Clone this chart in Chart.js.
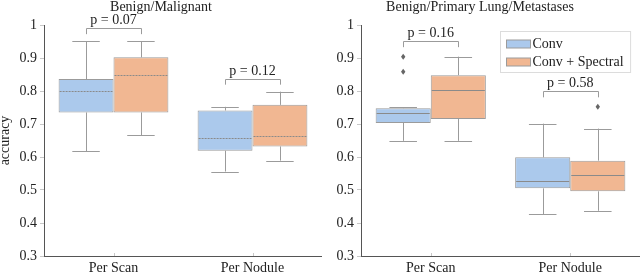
<!DOCTYPE html>
<html><head><meta charset="utf-8">
<script src="https://cdn.jsdelivr.net/npm/chart.js@4.4.0/dist/chart.umd.min.js"></script>
<style>
body{margin:0;background:#fff}
#wrap{position:relative;width:640px;height:274px;overflow:hidden;background:#fff}
canvas{position:absolute;top:0}
</style>
</head><body>
<div id="wrap">
<canvas id="c1" width="322" height="274" style="left:0"></canvas>
<canvas id="c2" width="320" height="274" style="left:320px"></canvas>
</div>
<script>
const categories = ['Per Scan', 'Per Nodule'];
const seriesNames = ['Conv', 'Conv + Spectral'];
const panelTitles = ['Benign/Malignant', 'Benign/Primary Lung/Metastases'];
const yAxisLabel = 'accuracy';

// box statistics per category: [min, q1, median, q3, max]
const bmConv = [[0.618, 0.735, 0.799, 0.836, 0.951], [0.556, 0.619, 0.659, 0.741, 0.752]];
const bmSpectral = [[0.666, 0.735, 0.849, 0.902, 0.951], [0.589, 0.632, 0.665, 0.758, 0.798]];
const bmConvOutliers = [[], []];
const bmSpectralOutliers = [[], []];
const bmPValues = ['p = 0.07', 'p = 0.12'];

const bpmConv = [[0.649, 0.703, 0.732, 0.748, 0.750], [0.427, 0.505, 0.528, 0.599, 0.701]];
const bpmSpectral = [[0.649, 0.715, 0.803, 0.848, 0.904], [0.437, 0.496, 0.545, 0.589, 0.686]];
const bpmConvOutliers = [[0.904, 0.858], []];
const bpmSpectralOutliers = [[], [0.752]];
const bpmPValues = ['p = 0.16', 'p = 0.58'];

const yMin = 0.3, yMax = 1, yStep = 0.1;

const FONT = '"Liberation Serif", "DejaVu Serif", "Times New Roman", serif';
const fills = ['#abc9ec', '#f1b792'];
const edge = '#9b9b9b';
Chart.defaults.font.family = FONT;
Chart.defaults.font.size = 14;
Chart.defaults.color = '#222';

const boxPlugin = {
  id: 'boxExtras',
  afterDatasetsDraw(chart, args, o) {
    const ctx = chart.ctx, y = chart.scales.y, x = chart.scales.x;
    const area = chart.chartArea;
    ctx.save();
    // inward x ticks
    ctx.strokeStyle = '#c8c8c8'; ctx.lineWidth = 1;
    ctx.beginPath();
    categories.forEach((c, j) => {
      const px = Math.round(x.getPixelForValue(j)) + 0.5;
      ctx.moveTo(px, area.bottom); ctx.lineTo(px, area.bottom - 3);
    });
    ctx.stroke();
    o.stats.forEach((ds, i) => {
      const meta = chart.getDatasetMeta(i);
      ds.forEach((s, j) => {
        const bar = meta.data[j];
        const cx = bar.x, w = bar.width;
        const px = Math.round(cx) + 0.5;
        ctx.strokeStyle = edge; ctx.lineWidth = 1; ctx.setLineDash([]);
        ctx.beginPath();
        ctx.moveTo(px, y.getPixelForValue(s[3])); ctx.lineTo(px, y.getPixelForValue(s[4]));
        ctx.moveTo(px, y.getPixelForValue(s[1])); ctx.lineTo(px, y.getPixelForValue(s[0]));
        [s[0], s[4]].forEach(v => {
          const py = Math.round(y.getPixelForValue(v)) + 0.5;
          ctx.moveTo(cx - w / 4, py); ctx.lineTo(cx + w / 4, py);
        });
        ctx.stroke();
        // median
        ctx.strokeStyle = o.medianColor;
        ctx.setLineDash(o.medianDash);
        ctx.beginPath();
        const pm = Math.round(y.getPixelForValue(s[2])) + 0.5;
        ctx.moveTo(cx - w / 2 + 1, pm); ctx.lineTo(cx + w / 2 - 1, pm);
        ctx.stroke();
        ctx.setLineDash([]);
        // outliers
        o.outliers[i][j].forEach(v => {
          const py = y.getPixelForValue(v);
          ctx.fillStyle = '#666';
          ctx.beginPath();
          ctx.moveTo(cx, py - 3); ctx.lineTo(cx + 2.2, py); ctx.lineTo(cx, py + 3); ctx.lineTo(cx - 2.2, py);
          ctx.closePath(); ctx.fill();
        });
      });
    });
    // significance brackets
    categories.forEach((c, j) => {
      const xa = chart.getDatasetMeta(0).data[j].x;
      const xb = chart.getDatasetMeta(1).data[j].x;
      let top = -Infinity;
      o.stats.forEach((ds, i) => {
        top = Math.max(top, ds[j][4], ...o.outliers[i][j]);
      });
      const legBottom = y.getPixelForValue(top) - o.gap;
      const barY = Math.round(legBottom - 6) + 0.5;
      ctx.strokeStyle = edge; ctx.lineWidth = 1;
      ctx.beginPath();
      ctx.moveTo(Math.round(xa) + 0.5, legBottom); ctx.lineTo(Math.round(xa) + 0.5, barY);
      ctx.lineTo(Math.round(xb) + 0.5, barY); ctx.lineTo(Math.round(xb) + 0.5, legBottom);
      ctx.stroke();
      ctx.fillStyle = '#222';
      ctx.font = '14px ' + FONT;
      ctx.textAlign = 'center'; ctx.textBaseline = 'alphabetic';
      ctx.fillText(o.pvalues[j], (xa + xb) / 2, barY - 4.5);
    });
    // legend
    if (o.legend) {
      ctx.font = '14px ' + FONT;
      const tw = Math.max(...seriesNames.map(n => ctx.measureText(n).width));
      const bw = 6 + 24 + 2 + tw + 7, bh = 41;
      const bx = Math.round(area.right - 10 - bw) + 0.5, by = Math.round(area.top + 6) + 0.5;
      ctx.fillStyle = '#fff'; ctx.fillRect(bx, by, bw, bh);
      ctx.strokeStyle = '#dcdcdc'; ctx.strokeRect(bx, by, bw, bh);
      seriesNames.forEach((n, i) => {
        const ry = by + 8.5 + i * 18;
        ctx.fillStyle = fills[i]; ctx.fillRect(bx + 6, ry, 24, 8);
        ctx.strokeStyle = edge; ctx.strokeRect(bx + 6, ry, 24, 8);
        ctx.fillStyle = '#222'; ctx.textAlign = 'left'; ctx.textBaseline = 'middle';
        ctx.fillText(n, bx + 32, ry + 4);
      });
    }
    ctx.restore();
  }
};

function makeChart(id, conv, spec, convOut, specOut, pvals, title, showYTitle, axisWidth, opts) {
  return new Chart(document.getElementById(id), {
    type: 'bar',
    data: {
      labels: categories,
      datasets: [
        { label: seriesNames[0], data: conv.map(s => [s[1], s[3]]), backgroundColor: fills[0], borderColor: edge, borderWidth: 1, borderSkipped: false },
        { label: seriesNames[1], data: spec.map(s => [s[1], s[3]]), backgroundColor: fills[1], borderColor: edge, borderWidth: 1, borderSkipped: false }
      ]
    },
    options: {
      responsive: false, animation: false, devicePixelRatio: 1,
      events: [],
      layout: { padding: 0 },
      datasets: { bar: { categoryPercentage: 0.79, barPercentage: 1 } },
      plugins: {
        legend: { display: false },
        tooltip: { enabled: false },
        title: { display: true, text: title, font: { size: 14, weight: 'normal', lineHeight: 1.2 }, color: '#222', padding: { top: -1.5, bottom: 9.7 } },
        boxExtras: Object.assign({ stats: [conv, spec], outliers: [convOut, specOut], pvalues: pvals }, opts)
      },
      scales: {
        x: {
          grid: { display: false, drawTicks: false, tickLength: 0 },
          border: { display: true, color: '#555', width: 1 },
          ticks: { padding: 4, color: '#222', font: { size: 14 } },
          afterFit(s) { s.height = 18; }
        },
        y: {
          min: yMin, max: yMax,
          grid: { display: true, drawOnChartArea: false, drawTicks: true, tickLength: 4, color: '#c8c8c8' },
          border: { display: true, color: '#555', width: 1 },
          ticks: { stepSize: yStep, padding: 3, color: '#222', font: { size: 14 }, callback: v => String(Number(v.toFixed(1))) },
          title: { display: showYTitle, text: yAxisLabel, font: { size: 14 }, color: '#222', padding: { top: -3, bottom: 0 } },
          afterFit(s) { s.width = axisWidth; }
        }
      }
    },
    plugins: [boxPlugin]
  });
}

makeChart('c1', bmConv, bmSpectral, bmConvOutliers, bmSpectralOutliers, bmPValues, panelTitles[0], true, 44,
  { gap: 7, medianColor: '#8a8a8a', medianDash: [2, 1], legend: false });
makeChart('c2', bpmConv, bpmSpectral, bpmConvOutliers, bpmSpectralOutliers, bpmPValues, panelTitles[1], false, 41,
  { gap: 9.5, medianColor: '#8a8a8a', medianDash: [], legend: true });
</script>
</body></html>
